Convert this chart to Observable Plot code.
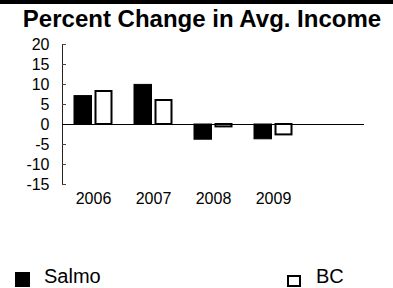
<!DOCTYPE html>
<html>
<head>
<meta charset="utf-8">
<script src="https://cdn.jsdelivr.net/npm/d3@7"></script>
<script src="https://cdn.jsdelivr.net/npm/@observablehq/plot@0.6"></script>
<style>
  html, body { margin: 0; padding: 0; background: #fff; }
  #chart { position: relative; width: 393px; height: 288px; overflow: hidden; font-family: "Liberation Sans", Arial, sans-serif; background: #fff; }
  #title { position: absolute; left: 0; top: 5px; width: 404px; text-align: center; font-weight: bold; font-size: 24px; line-height: 28px; color: #000; white-space: nowrap; z-index: 5; }
  #plot { position: absolute; left: 0; top: 0; z-index: 1; }
  .leg { position: absolute; top: 265px; font-size: 20px; line-height: 22px; color: #000; z-index: 5; }
  .sw { position: absolute; box-sizing: border-box; z-index: 5; }
</style>
</head>
<body>
<div id="chart">
  <div id="plot"></div>
  <div id="title"></div>
  <div id="legend"></div>
</div>
<script>
const title = "Percent Change in Avg. Income";
const years = ["2006", "2007", "2008", "2009"];
const seriesNames = ["Salmo", "BC"];
const salmo = [7.1, 9.9, -3.8, -3.7];
const bc = [8.25, 6.0, -0.6, -2.6];
const yTicks = [-15, -10, -5, 0, 5, 10, 15, 20];

document.getElementById("title").textContent = title;

const rows = [];
years.forEach((y, i) => {
  rows.push({year: y, series: seriesNames[0], value: salmo[i]});
  rows.push({year: y, series: seriesNames[1], value: bc[i]});
});
const salmoRows = rows.filter(d => d.series === seriesNames[0]);
const bcRows = rows.filter(d => d.series === seriesNames[1]);

const font = "Liberation Sans, Arial, sans-serif";
const chart = Plot.plot({
  width: 393,
  height: 288,
  marginTop: 44,
  marginBottom: 104,
  marginLeft: 62,
  marginRight: 29,
  style: {fontFamily: font, background: "transparent", color: "#000"},
  x: {domain: [...years, ""], padding: 0, label: null},
  y: {domain: [-15, 20], label: null},
  marks: [
    Plot.frame({anchor: "left", stroke: "#222"}),
    Plot.axisY({ticks: yTicks, tickSize: 0, tickPadding: 13, fontSize: 16, label: null, tickFormat: d => String(d)}),
    Plot.axisY({ticks: yTicks, tickSize: 4, dx: 4, text: null, label: null, stroke: "#444"}),
    Plot.axisX({tickSize: 0, tickPadding: 8, fontSize: 16, label: null}),
    Plot.barY(salmoRows, {x: "year", y: "value", fill: "#000", stroke: "#000", strokeWidth: 1, insetLeft: 11, insetRight: 31.5}),
    Plot.barY(bcRows, {x: "year", y: "value", fill: "#fff", stroke: "#000", strokeWidth: 2, insetLeft: 32.5, insetRight: 11.5}),
    Plot.ruleY([0], {stroke: "#000", strokeWidth: 1.2})
  ]
});
// thick decorative border line along the top edge of the picture
d3.select(chart).append("rect")
  .attr("x", 0).attr("y", 0).attr("width", 393).attr("height", 4)
  .attr("fill", "#000");
document.getElementById("plot").appendChild(chart);

// legend
const legend = document.getElementById("legend");
const legendItems = [
  {name: seriesNames[0], sw: {left: 15, top: 272, w: 15, h: 15, fill: "#000", border: "none"}, textLeft: 44},
  {name: seriesNames[1], sw: {left: 287, top: 275, w: 14, h: 12, fill: "#fff", border: "2px solid #000"}, textLeft: 316}
];
legendItems.forEach(it => {
  const s = document.createElement("div");
  s.className = "sw";
  s.style.left = it.sw.left + "px";
  s.style.top = it.sw.top + "px";
  s.style.width = it.sw.w + "px";
  s.style.height = it.sw.h + "px";
  s.style.background = it.sw.fill;
  s.style.border = it.sw.border;
  legend.appendChild(s);
  const t = document.createElement("div");
  t.className = "leg";
  t.style.left = it.textLeft + "px";
  t.textContent = it.name;
  legend.appendChild(t);
});
</script>
</body>
</html>
